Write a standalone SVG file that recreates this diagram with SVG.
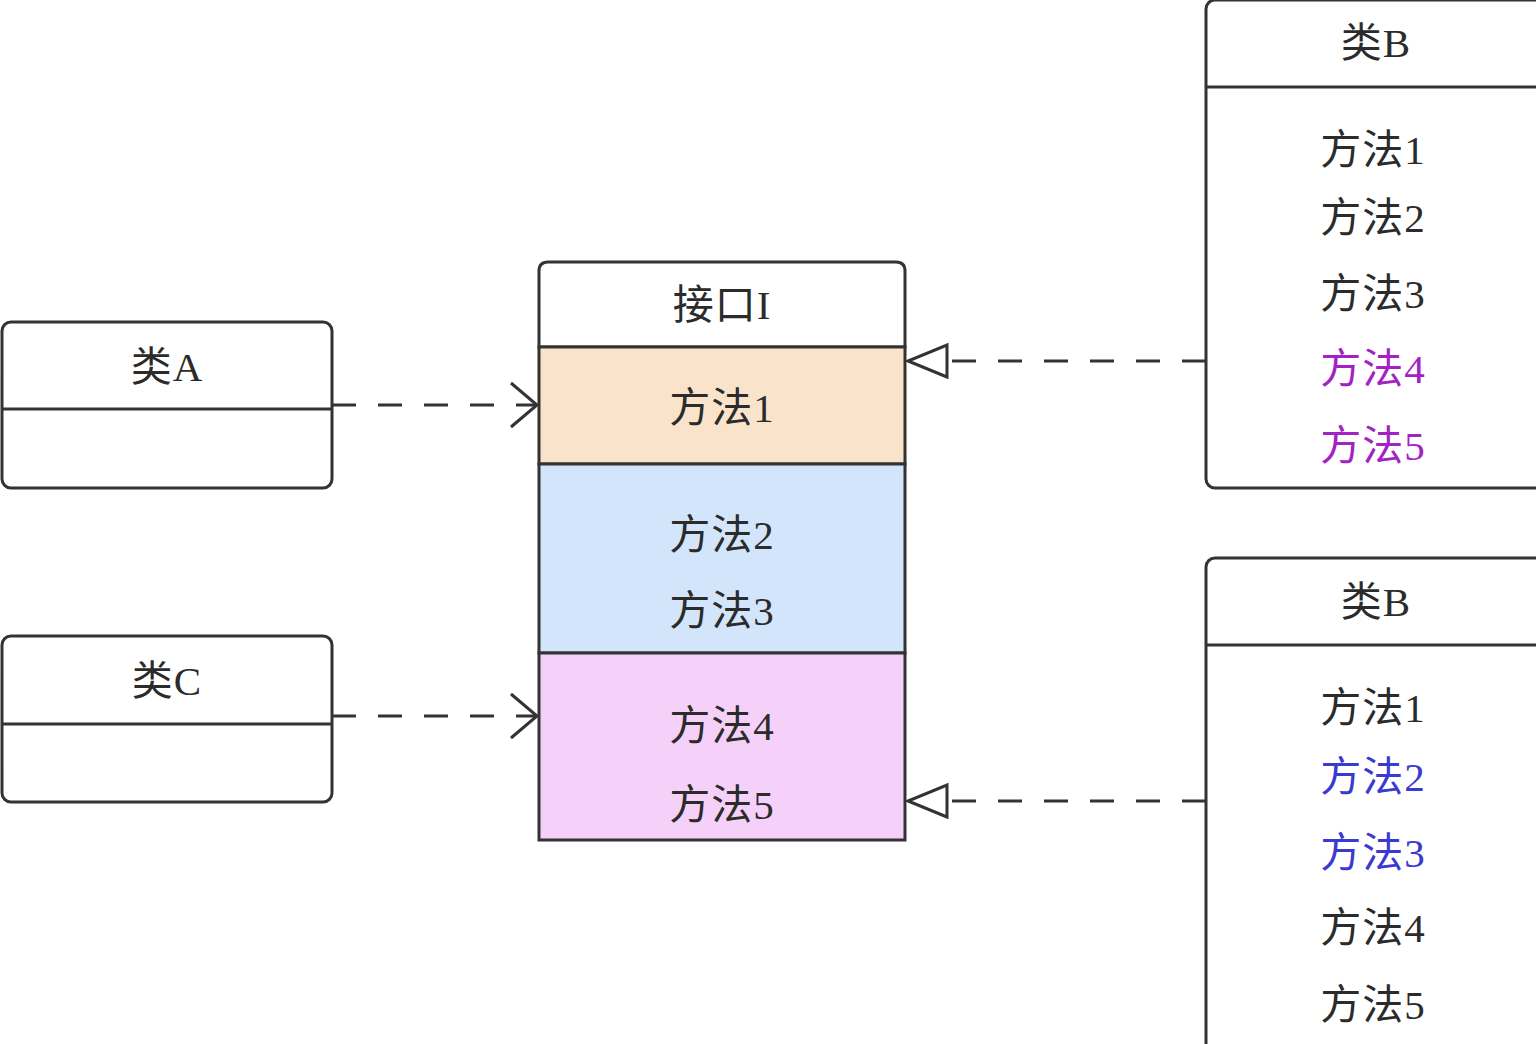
<svg xmlns="http://www.w3.org/2000/svg" width="1536" height="1044" viewBox="0 0 1536 1044">
  <style>
    .box { fill: #ffffff; stroke: #333333; stroke-width: 3; }
    .sec { stroke: #333333; stroke-width: 3; }
    .div { stroke: #333333; stroke-width: 3; fill: none; }
    .t { font-family: "Liberation Serif", "Noto Sans CJK SC", serif; font-size: 41px; letter-spacing: 1px; fill: #2b2b2b; text-anchor: middle; dominant-baseline: central; }
    .purple { fill: #a322c4; }
    .blue { fill: #3a3ad0; }
    .dep { stroke: #333333; stroke-width: 3; fill: none; stroke-dasharray: 24 22; }
  </style>
  <defs>
    <marker id="open" markerUnits="userSpaceOnUse" markerWidth="40" markerHeight="60" refX="28" refY="24" orient="auto">
      <path d="M2,2 L28,24 L2,46" fill="none" stroke="#333333" stroke-width="3"/>
    </marker>
    <marker id="hollow" markerUnits="userSpaceOnUse" markerWidth="50" markerHeight="40" refX="42" refY="18" orient="auto">
      <path d="M3,2 L42,18 L3,34 Z" fill="#ffffff" stroke="#333333" stroke-width="3"/>
    </marker>
  </defs>
  <rect width="1536" height="1044" fill="#ffffff"/>

  <!-- class A -->
  <g id="classA">
    <rect class="box" x="2" y="322" width="330" height="166" rx="9"/>
    <line class="div" x1="2" y1="409" x2="332" y2="409"/>
    <text class="t" x="167" y="367">类A</text>
  </g>

  <!-- class C -->
  <g id="classC">
    <rect class="box" x="2" y="636" width="330" height="166" rx="9"/>
    <line class="div" x1="2" y1="724" x2="332" y2="724"/>
    <text class="t" x="167" y="681">类C</text>
  </g>

  <!-- interface I with three method groups -->
  <g id="interfaceI">
    <path class="box" d="M539,347 L539,271 Q539,262 548,262 L896,262 Q905,262 905,271 L905,347 Z"/>
    <rect class="sec" x="539" y="347" width="366" height="117" fill="#fae3cb"/>
    <rect class="sec" x="539" y="464" width="366" height="189" fill="#d2e5fb"/>
    <rect class="sec" x="539" y="653" width="366" height="187" fill="#f5d0f9"/>
    <text class="t" x="722" y="305">接口I</text>
    <text class="t" x="722" y="408">方法1</text>
    <text class="t" x="722" y="535">方法2</text>
    <text class="t" x="722" y="611">方法3</text>
    <text class="t" x="722" y="726">方法4</text>
    <text class="t" x="722" y="805">方法5</text>
  </g>

  <!-- class B (upper) -->
  <g id="classB1">
    <rect class="box" x="1206" y="0" width="345" height="488" rx="9"/>
    <line class="div" x1="1206" y1="87" x2="1536" y2="87"/>
    <text class="t" x="1376" y="43">类B</text>
    <text class="t" x="1373" y="150">方法1</text>
    <text class="t" x="1373" y="218">方法2</text>
    <text class="t" x="1373" y="294">方法3</text>
    <text class="t purple" x="1373" y="369">方法4</text>
    <text class="t purple" x="1373" y="446">方法5</text>
  </g>

  <!-- class B (lower) -->
  <g id="classB2">
    <rect class="box" x="1206" y="558" width="345" height="500" rx="9"/>
    <line class="div" x1="1206" y1="645" x2="1536" y2="645"/>
    <text class="t" x="1376" y="602">类B</text>
    <text class="t" x="1373" y="708">方法1</text>
    <text class="t blue" x="1373" y="777">方法2</text>
    <text class="t blue" x="1373" y="853">方法3</text>
    <text class="t" x="1373" y="928">方法4</text>
    <text class="t" x="1373" y="1005">方法5</text>
  </g>

  <!-- connectors -->
  <g id="connectors">
    <line class="dep" x1="332" y1="405" x2="537" y2="405" marker-end="url(#open)"/>
    <line class="dep" x1="332" y1="716" x2="537" y2="716" marker-end="url(#open)"/>
    <line class="dep" x1="1206" y1="361" x2="908" y2="361" marker-end="url(#hollow)"/>
    <line class="dep" x1="1206" y1="801" x2="908" y2="801" marker-end="url(#hollow)"/>
  </g>
</svg>
